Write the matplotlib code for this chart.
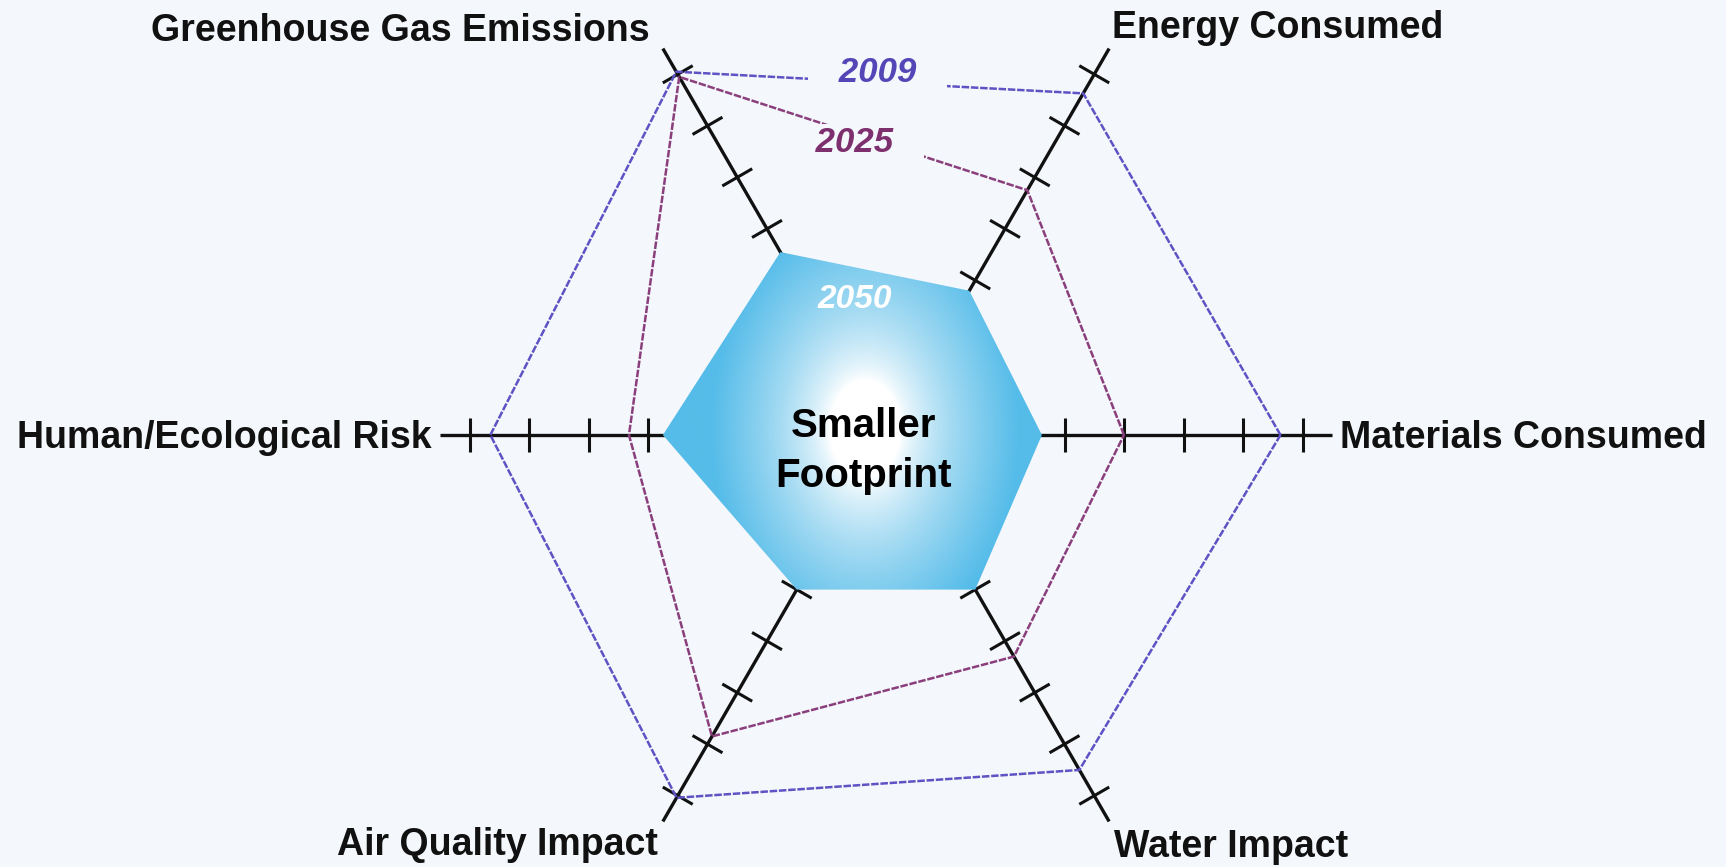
import numpy as np
import matplotlib.pyplot as plt
from matplotlib.patches import Polygon
from matplotlib.colors import LinearSegmentedColormap

# footprint axes, counter-clockwise starting at the right
axis_names = ['Materials Consumed', 'Energy Consumed', 'Greenhouse Gas Emissions',
              'Human/Ecological Risk', 'Air Quality Impact', 'Water Impact']
angles_deg = [0, 60, 120, 180, 240, 300]
tick_values = [3, 4, 5, 6, 7]

# footprint per year (in tick units along each axis)
fp_2009 = [6.63, 6.63, 7.05, 6.65, 7.04, 6.5]
fp_2025 = [4.0, 4.75, 6.95, 4.32, 5.85, 4.3]
fp_2050 = [2.62, 2.8, 3.55, 3.75, 3.0, 3.0]

bg = '#f4f7fb'
c2009 = '#5f52c4'
c2025 = '#8a3f7c'
unit = 59.5  # pixels per tick unit
axis_len = 7.5
tick_half = 0.29

ang = np.radians(angles_deg)
ux, uy = np.cos(ang), np.sin(ang)


def to_xy(vals):
    v = np.asarray(vals)
    return v * ux, v * uy


fig = plt.figure(figsize=(17.26, 8.67), dpi=100)
fig.patch.set_facecolor(bg)
ax = fig.add_axes([0, 0, 1, 1])
ax.set_facecolor(bg)
ax.set_xlim(-886 / unit, (1726 - 886) / unit)
ax.set_ylim(-(867 - 435) / unit, 435 / unit)
ax.axis('off')

# the six axes with their ticks
for i in range(6):
    ax.plot([0, axis_len * ux[i]], [0, axis_len * uy[i]], color='#111111', lw=2.4,
            solid_capstyle='butt', zorder=2)
    for t in tick_values:
        px, py = t * ux[i], t * uy[i]
        nx, ny = -uy[i], ux[i]
        ax.plot([px - tick_half * nx, px + tick_half * nx],
                [py - tick_half * ny, py + tick_half * ny],
                color='#111111', lw=2.2, solid_capstyle='butt', zorder=2)

# 2050 - gradient filled polygon
x50, y50 = to_xy(fp_2050)
poly = Polygon(np.column_stack([x50, y50]), closed=True, facecolor='none',
               edgecolor='none', zorder=3)
ax.add_patch(poly)
gx, gy = np.meshgrid(np.linspace(-4.5, 4.5, 400), np.linspace(-4.5, 4.5, 400))
d = np.sqrt((gx + 0.35) ** 2 + ((gy - 0.1) / 1.4) ** 2)
g = np.clip((d - 0.6) / 2.0, 0, 1) ** 0.75
cmap = LinearSegmentedColormap.from_list('fp', ['#ffffff', '#a8dcf3', '#55bce9'])
im = ax.imshow(g, cmap=cmap, extent=(-4.5, 4.5, -4.5, 4.5), origin='lower',
               zorder=3, interpolation='bilinear')
im.set_clip_path(poly)

# 2009 and 2025 outlines
for vals, col in [(fp_2009, c2009), (fp_2025, c2025)]:
    x, y = to_xy(vals)
    ax.plot(np.append(x, x[0]), np.append(y, y[0]), color=col, lw=1.8,
            linestyle=(0, (3, 0.7)), zorder=4)

# year labels
ax.text((810 - 886) / unit, (435 - 72) / unit, '   2009   ', color='#5546b8',
        fontsize=25, fontweight='bold', fontstyle='italic', family='Liberation Sans',
        ha='left', va='center', zorder=5,
        bbox=dict(boxstyle='square,pad=0.05', facecolor=bg, edgecolor='none'))
ax.text((806 - 886) / unit, (435 - 142) / unit, ' 2025   ', color='#7e2f6e',
        fontsize=25, fontweight='bold', fontstyle='italic', family='Liberation Sans',
        ha='left', va='center', zorder=5,
        bbox=dict(boxstyle='square,pad=0.05', facecolor=bg, edgecolor='none'))
ax.text((855 - 886) / unit, (435 - 300) / unit, '2050', color='white',
        fontsize=24, fontweight='bold', fontstyle='italic', family='Liberation Sans',
        ha='center', va='center', zorder=5)

ax.text((863 - 886) / unit, (435 - 437) / unit, 'Smaller', color='black',
        fontsize=29, fontweight='bold', family='Liberation Sans',
        ha='center', va='baseline', zorder=5)
ax.text((863 - 886) / unit, (435 - 487) / unit, 'Footprint', color='black',
        fontsize=29, fontweight='bold', family='Liberation Sans',
        ha='center', va='baseline', zorder=5)

# axis labels (x px, baseline px, alignment)
label_pos = [(1340, 448, 'left'), (1112, 38, 'left'), (650, 41, 'right'),
             (432, 448, 'right'), (658, 855, 'right'), (1114, 857, 'left')]
for name, (lx, ly, ha) in zip(axis_names, label_pos):
    ax.text((lx - 886) / unit, (435 - ly) / unit, name, color='#111111',
            fontsize=27, fontweight='bold', family='Liberation Sans',
            ha=ha, va='baseline', zorder=5)

fig.savefig('out.png', dpi=100, facecolor=bg)
